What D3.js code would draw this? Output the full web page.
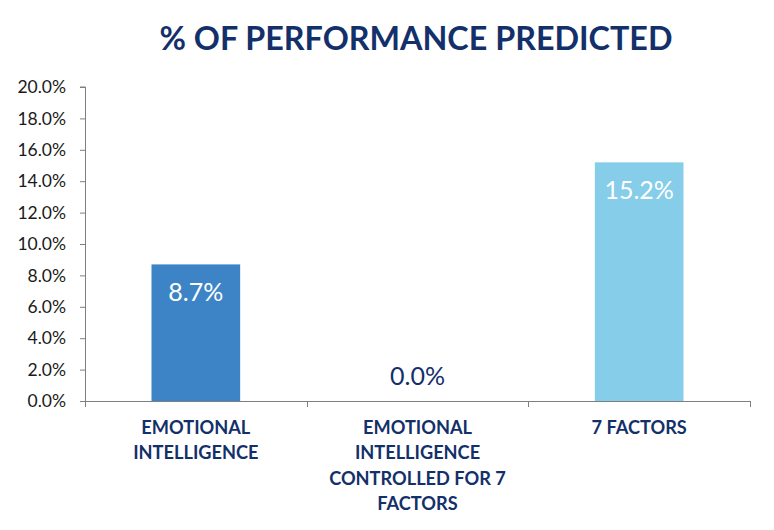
<!DOCTYPE html>
<html>
<head>
<meta charset="utf-8">
<script src="https://cdn.jsdelivr.net/npm/d3@7"></script>
<style>
  html, body { margin: 0; padding: 0; background: #ffffff; }
  svg { display: block; }
</style>
</head>
<body>
<svg id="chart" width="774" height="530"></svg>
<script>
const title = "% OF PERFORMANCE PREDICTED";
const categories = [
  ["EMOTIONAL", "INTELLIGENCE"],
  ["EMOTIONAL", "INTELLIGENCE", "CONTROLLED FOR 7", "FACTORS"],
  ["7 FACTORS"]
];
const values = [8.7, 0.0, 15.2];
const barColors = ["#3d84c6", "#4a90d0", "#86cdea"];
const yTicks = [0, 2, 4, 6, 8, 10, 12, 14, 16, 18, 20];

const W = 774, H = 530;
const margin = { left: 85, right: 24, top: 87, bottom: 129 };
const svg = d3.select("#chart");
const font = "Lato, 'Open Sans', sans-serif";
const navy = "#13306a";

const x = d3.scaleBand()
  .domain(d3.range(categories.length))
  .range([margin.left, W - margin.right])
  .paddingInner(0.6).paddingOuter(0.3);
const band = d3.scaleBand()
  .domain(d3.range(categories.length))
  .range([margin.left, W - margin.right]);
const y = d3.scaleLinear().domain([0, 20]).range([H - margin.bottom, margin.top]);

// title
svg.append("text")
  .attr("x", 416).attr("y", 50)
  .attr("text-anchor", "middle")
  .attr("font-family", font).attr("font-weight", "bold")
  .attr("font-size", 32.3).attr("fill", navy)
  .text(title);

// y axis
const yAxis = d3.axisLeft(y).tickValues(yTicks).tickSize(5).tickPadding(14)
  .tickFormat(d => d.toFixed(1) + "%");
const gy = svg.append("g").attr("transform", `translate(${margin.left},0)`).call(yAxis);
gy.select(".domain").attr("stroke", "#7f7f7f").attr("d", `M-5,${y(20)}H0.5V${y(0)}`);
gy.selectAll(".tick line").attr("stroke", "#7f7f7f");
gy.selectAll(".tick text").attr("font-family", font).attr("font-size", 17.5).attr("fill", "#1a1a1a");

// bars
svg.append("g").selectAll("rect").data(values).join("rect")
  .attr("x", (d, i) => x(i))
  .attr("width", x.bandwidth())
  .attr("y", d => y(d))
  .attr("height", d => y(0) - y(d))
  .attr("fill", (d, i) => barColors[i]);

// x axis line with boundary ticks
const gx = svg.append("g");
gx.append("line")
  .attr("x1", margin.left).attr("x2", W - margin.right)
  .attr("y1", y(0) + 0.5).attr("y2", y(0) + 0.5)
  .attr("stroke", "#7f7f7f");
const bounds = d3.range(categories.length + 1).map(i => i < categories.length ? band(i) : band.range()[1]);
gx.selectAll("line.tk").data(bounds).join("line").attr("class", "tk")
  .attr("x1", d => Math.round(d) + 0.5).attr("x2", d => Math.round(d) + 0.5)
  .attr("y1", y(0)).attr("y2", y(0) + 6)
  .attr("stroke", "#7f7f7f");

// data labels
svg.append("g").selectAll("text").data(values).join("text")
  .attr("x", (d, i) => x(i) + x.bandwidth() / 2)
  .attr("y", d => d > 0 ? y(d) + 37 : y(d) - 16)
  .attr("text-anchor", "middle")
  .attr("font-family", font).attr("font-size", 25)
  .attr("fill", d => d > 0 ? "#ffffff" : navy)
  .text(d => d.toFixed(1) + "%");

// category labels
const cg = svg.append("g").selectAll("text").data(categories).join("text")
  .attr("text-anchor", "middle")
  .attr("font-family", font).attr("font-weight", "bold")
  .attr("font-size", 18.2).attr("fill", navy);
cg.each(function(lines, i) {
  d3.select(this).selectAll("tspan").data(lines).join("tspan")
    .attr("x", band(i) + band.bandwidth() / 2)
    .attr("y", (l, j) => 434 + j * 25.3)
    .text(l => l);
});
</script>
</body>
</html>
